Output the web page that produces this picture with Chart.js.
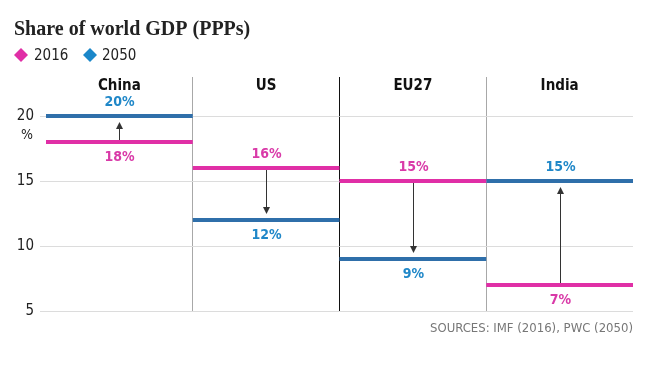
<!DOCTYPE html>
<html>
<head>
<meta charset="utf-8">
<script src="https://cdn.jsdelivr.net/npm/chart.js@4.4.1/dist/chart.umd.min.js"></script>
<style>
  html, body { margin: 0; padding: 0; background: #fff; }
  #wrap { position: relative; width: 650px; height: 366px; }
</style>
</head>
<body>
<div id="wrap"><canvas id="chart" width="650" height="366"></canvas></div>
<script>
// Data
var categories = ['China', 'US', 'EU27', 'India'];
var share2016 = [18, 16, 15, 7];
var share2050 = [20, 12, 9, 15];
var yTicks = [5, 10, 15, 20];

var PINK = '#e02fa6', PINK_TEXT = '#d93aa8';
var BLUE = '#2f6faa', BLUE_TEXT = '#1f87c8';
var COND = '"Liberation Sans Narrow", "DejaVu Sans Condensed", "Roboto Condensed", sans-serif';

// One flat segment per category, broken by nulls
var segments = function(values) {
	var out = [];
	values.forEach(function(v, i) {
		out.push({x: i, y: v}, {x: i + 1, y: v}, {x: i + 1, y: null});
	});
	return out;
};

var diamond = function(ctx, x, y, r, color) {
	ctx.beginPath();
	ctx.moveTo(x, y - r);
	ctx.lineTo(x + r, y);
	ctx.lineTo(x, y + r);
	ctx.lineTo(x - r, y);
	ctx.closePath();
	ctx.fillStyle = color;
	ctx.fill();
};

var decorations = {
	id: 'decorations',
	beforeDraw: function(chart) {
		var ctx = chart.ctx;
		ctx.save();
		ctx.fillStyle = '#fff';
		ctx.fillRect(0, 0, chart.width, chart.height);

		// Title
		ctx.fillStyle = '#222';
		ctx.textBaseline = 'alphabetic';
		ctx.textAlign = 'left';
		ctx.font = 'bold 20px "Liberation Serif", "DejaVu Serif", serif';
		ctx.fillText('Share of world GDP (PPPs)', 14, 35);

		// Legend
		diamond(ctx, 21, 55, 7, PINK);
		diamond(ctx, 90, 55, 7, '#1b87c9');
		ctx.fillStyle = '#222';
		ctx.font = '15px ' + COND;
		ctx.textBaseline = 'middle';
		ctx.fillText('2016', 34, 56);
		ctx.fillText('2050', 102, 56);
		ctx.restore();
	},
	afterDraw: function(chart) {
		var ctx = chart.ctx;
		var xs = chart.scales.x, ys = chart.scales.y;
		var area = chart.chartArea;
		ctx.save();

		// Category headers
		ctx.textAlign = 'center';
		ctx.textBaseline = 'middle';
		ctx.fillStyle = '#111';
		ctx.font = 'bold 15px ' + COND;
		categories.forEach(function(c, i) {
			ctx.fillText(c, xs.getPixelForValue(i + 0.5), area.top + 9);
		});

		// "%" unit under the 20 tick
		ctx.fillStyle = '#222';
		ctx.font = '14px ' + COND;
		ctx.fillText('%', 27, ys.getPixelForValue(20) + 19);

		categories.forEach(function(c, i) {
			var cx = Math.round(xs.getPixelForValue(i + 0.5)) + 0.5;
			var y0 = ys.getPixelForValue(share2016[i]);
			var y1 = ys.getPixelForValue(share2050[i]);
			var up = y1 < y0;
			var dir = up ? -1 : 1;

			// Arrow from 2016 to 2050
			var tip = y1 - dir * 6;
			ctx.strokeStyle = '#333';
			ctx.lineWidth = 1;
			ctx.beginPath();
			ctx.moveTo(cx, y0 + dir * 2);
			ctx.lineTo(cx, tip - dir * 5);
			ctx.stroke();
			ctx.fillStyle = '#333';
			ctx.beginPath();
			ctx.moveTo(cx, tip);
			ctx.lineTo(cx - 3.5, tip - dir * 7);
			ctx.lineTo(cx + 3.5, tip - dir * 7);
			ctx.closePath();
			ctx.fill();

			// Value labels: the higher one above its line, the lower one below
			ctx.font = 'bold 14px ' + COND;
			ctx.fillStyle = BLUE_TEXT;
			ctx.fillText(share2050[i] + '%', cx, y1 + (up ? -14 : 15));
			ctx.fillStyle = PINK_TEXT;
			ctx.fillText(share2016[i] + '%', cx, y0 + (up ? 15 : -14));
		});

		// Source
		ctx.textAlign = 'right';
		ctx.fillStyle = '#777';
		ctx.font = '13px ' + COND;
		ctx.fillText('SOURCES: IMF (2016), PWC (2050)', area.right, 329);
		ctx.restore();
	}
};

new Chart(document.getElementById('chart').getContext('2d'), {
	type: 'line',
	data: {
		datasets: [{
			label: '2016',
			data: segments(share2016),
			borderColor: PINK,
			borderWidth: 4,
			pointRadius: 0,
			spanGaps: false
		}, {
			label: '2050',
			data: segments(share2050),
			borderColor: BLUE,
			borderWidth: 4,
			pointRadius: 0,
			spanGaps: false
		}]
	},
	options: {
		responsive: false,
		animation: false,
		layout: {padding: {top: 77, left: 12, right: 17, bottom: 55}},
		plugins: {
			legend: {display: false},
			tooltip: {enabled: false}
		},
		scales: {
			x: {
				type: 'linear',
				min: 0,
				max: 4,
				afterBuildTicks: function(scale) {
					scale.ticks = [0, 1, 2, 3, 4].map(function(v) { return {value: v}; });
				},
				afterFit: function(scale) { scale.height = 0; },
				ticks: {display: false},
				border: {display: false},
				grid: {
					drawTicks: false,
					lineWidth: 1,
					color: function(c) {
						var v = c.tick && c.tick.value;
						if (v === 2) return '#111';
						if (v === 1 || v === 3) return '#a8a8a8';
						return 'rgba(0,0,0,0)';
					}
				}
			},
			y: {
				type: 'linear',
				min: 5,
				max: 23,
				afterBuildTicks: function(scale) {
					scale.ticks = yTicks.map(function(v) { return {value: v}; });
				},
				afterFit: function(scale) { scale.width = 34; },
				border: {display: false},
				grid: {color: '#dcdcdc', tickLength: 6, drawTicks: true},
				ticks: {
					color: '#222',
					padding: 6,
					font: {family: COND, size: 15}
				}
			}
		}
	},
	plugins: [decorations]
});
</script>
</body>
</html>
